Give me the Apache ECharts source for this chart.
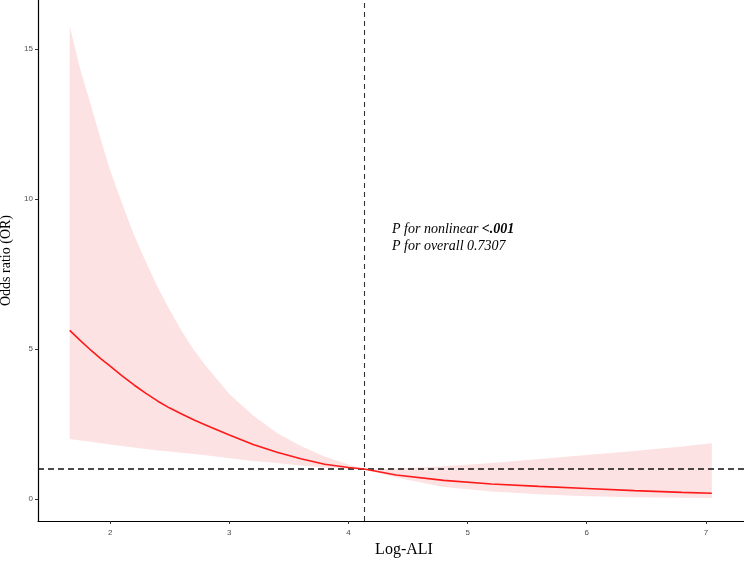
<!DOCTYPE html>
<html>
<head>
<meta charset="utf-8">
<script src="https://cdn.jsdelivr.net/npm/echarts@6/dist/echarts.min.js"></script>
<style>html,body{margin:0;padding:0;background:#fff}#c{width:744px;height:562px}</style>
</head>
<body>
<div id="c"></div>
<script>
const xValues = [1.66, 1.75, 1.84, 1.92, 2.0, 2.1, 2.2, 2.3, 2.4, 2.5, 2.6, 2.7, 2.8, 3.0, 3.2, 3.4, 3.6, 3.8, 4.0, 4.13, 4.4, 4.8, 5.2, 5.6, 6.0, 6.4, 6.8, 7.05];
const orValues = [5.62, 5.28, 4.95, 4.68, 4.43, 4.1, 3.8, 3.52, 3.26, 3.03, 2.83, 2.64, 2.47, 2.13, 1.82, 1.56, 1.34, 1.16, 1.05, 1.0, 0.8, 0.62, 0.5, 0.42, 0.35, 0.28, 0.22, 0.19];
const upperValues = [15.76, 14.3, 13.1, 12.0, 10.95, 9.85, 8.8, 7.9, 7.05, 6.3, 5.6, 4.98, 4.45, 3.5, 2.78, 2.2, 1.77, 1.42, 1.15, 1.0, 1.02, 1.09, 1.2, 1.33, 1.47, 1.6, 1.75, 1.86];
const lowerValues = [2.0, 1.95, 1.91, 1.86, 1.82, 1.77, 1.72, 1.67, 1.62, 1.58, 1.54, 1.5, 1.46, 1.36, 1.27, 1.2, 1.12, 1.05, 1.01, 1.0, 0.72, 0.4, 0.25, 0.16, 0.09, 0.06, 0.04, 0.03];
const xTicks = [2, 3, 4, 5, 6, 7];
const yTicks = [0, 5, 10, 15];
const refX = 4.13;
const refY = 1;

const chart = echarts.init(document.getElementById('c'), null, {renderer: 'canvas'});
const lineData = xValues.map((x, i) => [x, orValues[i]]);
const bandData = xValues.map((x, i) => [x, lowerValues[i], upperValues[i]]);

chart.setOption({
  animation: false,
  grid: {left: 38, right: 0, top: 0, bottom: 41, containLabel: false, outerBoundsMode: 'none'},
  xAxis: {
    type: 'value', min: 1.394, max: 7.32,
    splitLine: {show: false},
    axisLine: {onZero: false, lineStyle: {color: '#000', width: 1.2}},
    axisTick: {show: true, length: 3, lineStyle: {color: '#333'}, customValues: xTicks},
    axisLabel: {color: '#4d4d4d', fontSize: 8, fontFamily: 'Liberation Sans', margin: 8, customValues: xTicks},
    name: 'Log-ALI', nameLocation: 'middle', nameGap: 21,
    nameTextStyle: {fontFamily: 'Liberation Serif', fontSize: 16, color: '#000', padding: [0, 0, 0, 26]}
  },
  yAxis: {
    type: 'value', min: -0.733, max: 16.63,
    splitLine: {show: false},
    axisLine: {show: true, onZero: false, lineStyle: {color: '#000', width: 1.2}},
    axisTick: {show: true, length: 3, lineStyle: {color: '#333'}, customValues: yTicks},
    axisLabel: {color: '#4d4d4d', fontSize: 8, fontFamily: 'Liberation Sans', margin: 5, customValues: yTicks},
    name: 'Odds ratio (OR)', nameLocation: 'middle', nameGap: 19, nameRotate: 90,
    nameTextStyle: {fontFamily: 'Liberation Serif', fontSize: 14, color: '#000'}
  },
  series: [
    {
      type: 'custom', silent: true, z: 1,
      data: bandData,
      renderItem: function (params, api) {
        if (params.dataIndex !== 0) return null;
        const top = [], bottom = [];
        for (let i = 0; i < bandData.length; i++) {
          top.push(api.coord([bandData[i][0], bandData[i][2]]));
          bottom.push(api.coord([bandData[i][0], bandData[i][1]]));
        }
        const pts = top.concat(bottom.reverse());
        return {
          type: 'polygon',
          shape: {points: pts},
          style: {fill: '#fde2e3', stroke: null}
        };
      },
      encode: {x: 0, y: [1, 2]}
    },
    {
      type: 'line', data: lineData, symbol: 'none', smooth: false,
      lineStyle: {color: '#ff1a1a', width: 1.6}, z: 5,
      markLine: {
        silent: true, symbol: 'none', label: {show: false},
        lineStyle: {color: '#1a1a1a', type: [6, 4], width: 1.4},
        data: [
          {xAxis: refX, lineStyle: {color: '#333', type: [5, 4], width: 1.1}},
          {yAxis: refY, lineStyle: {color: '#111', type: [6, 4], width: 1.5}}
        ]
      }
    }
  ],
  graphic: [
    {
      type: 'text', left: 392, top: 222,
      style: {
        rich: {
          n: {fontFamily: 'Liberation Serif', fontStyle: 'italic', fontSize: 14, fill: '#000', lineHeight: 17},
          b: {fontFamily: 'Liberation Serif', fontStyle: 'italic', fontWeight: 'bold', fontSize: 14, fill: '#000', lineHeight: 17}
        },
        text: '{n|P for nonlinear }{b|<.001}\n{n|P for overall 0.7307}'
      }
    }
  ]
});
</script>
</body>
</html>
